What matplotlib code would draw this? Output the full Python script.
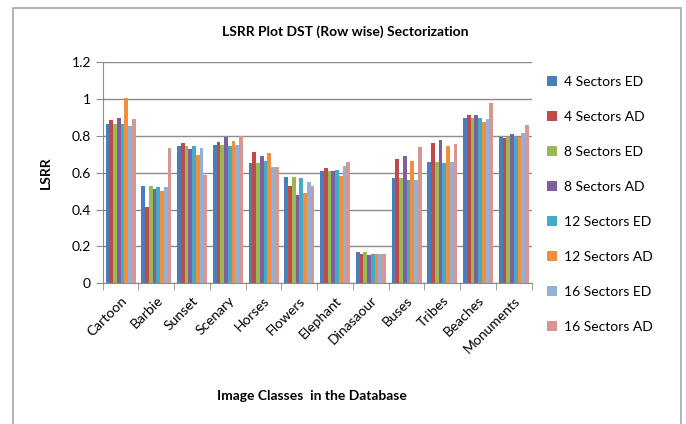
import numpy as np
import matplotlib
matplotlib.use("Agg")
import matplotlib.pyplot as plt
from matplotlib.patches import Rectangle

plt.rcParams["font.family"] = ["Lato", "DejaVu Sans"]

categories = ["Cartoon", "Barbie", "Sunset", "Scenary", "Horses", "Flowers",
              "Elephant", "Dinasaour", "Buses", "Tribes", "Beaches", "Monuments"]

series_names = ["4 Sectors ED", "4 Sectors AD", "8 Sectors ED", "8 Sectors AD",
                "12 Sectors ED", "12 Sectors AD", "16 Sectors ED", "16 Sectors AD"]

s4_ed = [0.863, 0.528, 0.748, 0.753, 0.652, 0.576, 0.610, 0.167, 0.570, 0.659, 0.898, 0.796]
s4_ad = [0.885, 0.413, 0.760, 0.767, 0.713, 0.528, 0.624, 0.159, 0.673, 0.760, 0.912, 0.789]
s8_ed = [0.863, 0.528, 0.748, 0.753, 0.652, 0.576, 0.610, 0.167, 0.570, 0.659, 0.898, 0.796]
s8_ad = [0.898, 0.514, 0.728, 0.796, 0.691, 0.481, 0.610, 0.152, 0.691, 0.776, 0.912, 0.809]
s12_ed = [0.863, 0.523, 0.748, 0.746, 0.664, 0.570, 0.617, 0.159, 0.563, 0.652, 0.898, 0.796]
s12_ad = [1.005, 0.501, 0.699, 0.775, 0.706, 0.489, 0.583, 0.159, 0.666, 0.748, 0.878, 0.796]
s16_ed = [0.856, 0.523, 0.733, 0.753, 0.632, 0.548, 0.637, 0.159, 0.563, 0.659, 0.890, 0.816]
s16_ad = [0.890, 0.735, 0.588, 0.800, 0.632, 0.528, 0.657, 0.159, 0.740, 0.755, 0.981, 0.858]

series = [s4_ed, s4_ad, s8_ed, s8_ad, s12_ed, s12_ad, s16_ed, s16_ad]
colors = ["#4A7EBB", "#BE4B48", "#98B954", "#7D60A0",
          "#46AAC5", "#F28F3C", "#93B1D6", "#D89693"]

fig = plt.figure(figsize=(6.86, 4.24), dpi=100)
fig.patches.append(Rectangle((13 / 686, -0.1), (681 - 13) / 686, 1 - 8 / 424 + 0.1,
                             transform=fig.transFigure, fill=False,
                             edgecolor="#A6A6A6", linewidth=1.2))
ax = fig.add_axes([0.1497, 0.332, 0.6253, 0.521])

x = np.arange(len(categories))
n = len(series)
width = 0.84 / n
for i, (name, vals, c) in enumerate(zip(series_names, series, colors)):
    ax.bar(x - 0.42 + width * (i + 0.5), vals, width, color=c, label=name, linewidth=0)

ax.set_xlim(-0.5, len(categories) - 0.5)
ax.set_ylim(0, 1.2)
ax.set_yticks(np.arange(0, 1.21, 0.2))
ax.set_yticklabels(["0", "0.2", "0.4", "0.6", "0.8", "1", "1.2"], fontsize=10)
ax.yaxis.grid(True, color="#8C8C8C", linewidth=1)
ax.set_axisbelow(True)

ax.set_xticks(x)
ax.set_xticklabels(categories, rotation=45, ha="right", rotation_mode="anchor", fontsize=10)
ax.set_xticks(np.arange(-0.5, len(categories), 1), minor=True)
ax.tick_params(axis="x", which="major", length=0, pad=8)
ax.tick_params(axis="x", which="minor", length=5, color="#8C8C8C")
ax.tick_params(axis="y", length=5, color="#8C8C8C")

for s in ["top", "right"]:
    ax.spines[s].set_visible(False)
for s in ["left", "bottom"]:
    ax.spines[s].set_color("#8C8C8C")

ax.set_ylabel("LSRR", fontsize=10, fontweight="bold", labelpad=14)
fig.text(0.455, 0.066, "Image Classes  in the Database", ha="center", va="center",
         fontsize=10, fontweight="bold")
fig.text(0.503, 0.925, "LSRR Plot DST (Row wise) Sectorization", ha="center", va="center",
         fontsize=10, fontweight="bold")

ax.legend(loc="upper left", bbox_to_anchor=(0.79, 0.835), bbox_transform=fig.transFigure,
          frameon=False, fontsize=10, handlelength=0.7, handleheight=0.7,
          handletextpad=0.5, labelspacing=1.66, borderaxespad=0)

fig.savefig("out.png", dpi=100)
